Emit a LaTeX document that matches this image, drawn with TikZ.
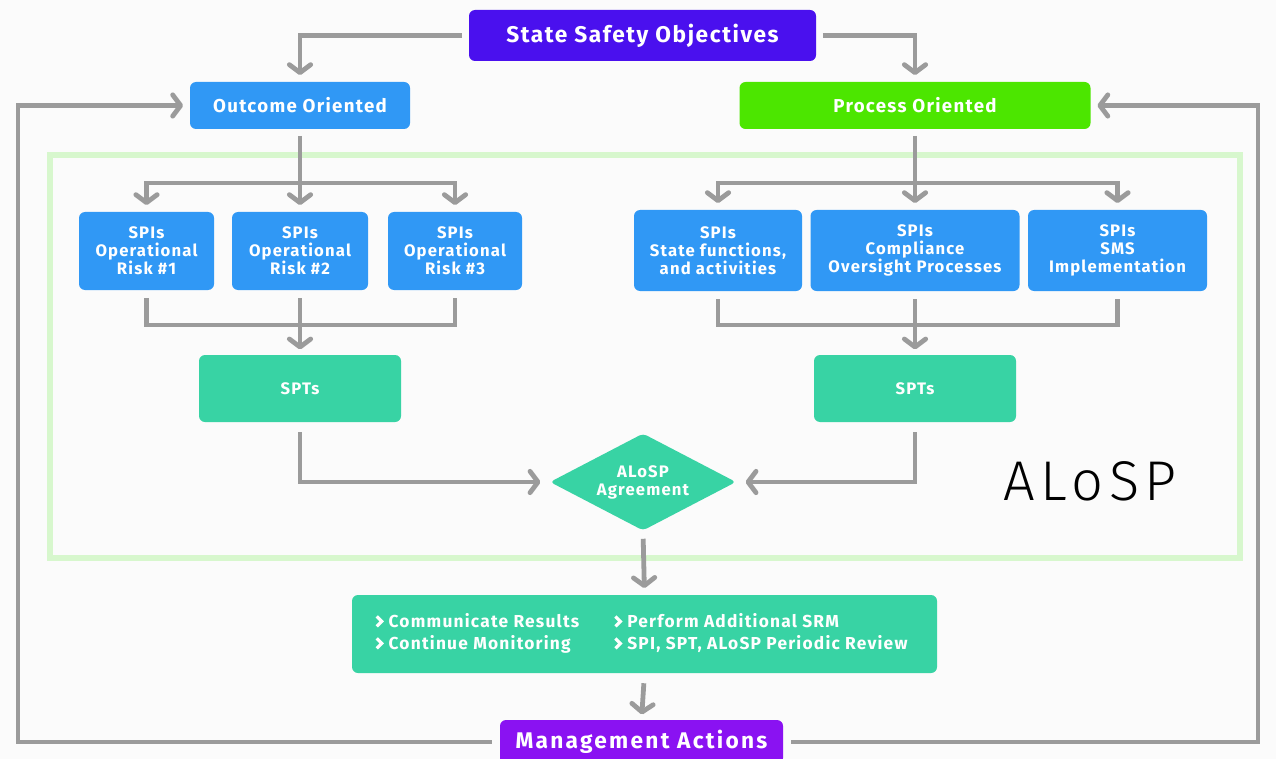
\documentclass[tikz,border=0pt]{standalone}
\usepackage{fontspec}
\setmainfont{Fira Sans}[LetterSpace=7]
\newfontfamily\thinfont{Fira Sans Light}[LetterSpace=10]
\newfontfamily\wideb{Fira Sans}[LetterSpace=10]
\usetikzlibrary{arrows.meta,shapes.geometric}
\newcommand\chev{\tikz[baseline=0pt, x=1pt, y=1pt]\draw[white, sharp corners, line width=2.4pt, line join=miter, line cap=butt] (0.5,0.8) -- (4.2,4.5) -- (0.5,8.2);\hspace{4pt}}
\definecolor{bgc}{RGB}{251,251,251}
\definecolor{ssoc}{RGB}{74,16,238}
\definecolor{bluec}{RGB}{48,152,245}
\definecolor{greenc}{RGB}{76,230,0}
\definecolor{tealc}{RGB}{56,211,164}
\definecolor{violc}{RGB}{138,18,242}
\definecolor{grayc}{RGB}{155,155,155}
\definecolor{framec}{RGB}{215,247,205}
\begin{document}
\begin{tikzpicture}[x=0.75pt,y=-0.75pt,
  sz/.style 2 args={minimum width=#1*0.75pt, minimum height=#2*0.75pt},
  box/.style={rounded corners=4.5pt, text=white, align=center, inner sep=0pt},
  ttl/.style={font=\fontsize{17}{20}\selectfont\bfseries},
  hd/.style={font=\fontsize{14}{16}\selectfont\bfseries},
  spi/.style={font=\fontsize{12.5}{13.5}\selectfont\bfseries},
  conn/.style={draw=grayc, line width=3.6pt},
  arr/.style={conn, -{Straight Barb[length=6pt,width=16pt,round]}}
]
\useasboundingbox[fill=bgc] (0,0) rectangle (1276,759);
% frame
\draw[framec, line width=4.5pt] (50,155) rectangle (1240,558);
% nodes
\node[box, fill=ssoc, sz={347}{51}, ttl] (sso) at (642.5,35.5) {State Safety Objectives};
\node[box, fill=bluec, sz={220}{47}, hd] (oo) at (300,105.5) {Outcome Oriented};
\node[box, fill=greenc, sz={351}{47}, hd] (po) at (915,105.5) {Process Oriented};
\node[box, fill=bluec, sz={135}{78}, spi] (l1) at (146.5,251) {SPIs\\Operational\\Risk \#1};
\node[box, fill=bluec, sz={136}{78}, spi] (l2) at (300,251) {SPIs\\Operational\\Risk \#2};
\node[box, fill=bluec, sz={134}{78}, spi] (l3) at (455,251) {SPIs\\Operational\\Risk \#3};
\node[box, fill=bluec, sz={168}{81}, spi] (r1) at (718,250.5) {SPIs\\State functions,\\and activities};
\node[box, fill=bluec, sz={209}{81}, spi] (r2) at (915,250.5) {SPIs\\Compliance\\Oversight Processes};
\node[box, fill=bluec, sz={179}{81}, spi] (r3) at (1117.5,250.5) {SPIs\\SMS\\Implementation};
\node[box, fill=tealc, sz={202}{67}, spi] (sptl) at (300,388.5) {SPTs};
\node[box, fill=tealc, sz={202}{67}, spi] (sptr) at (915,388.5) {SPTs};
\node[diamond, aspect=1.9, fill=tealc, text=white, rounded corners=3pt, sz={186}{97}, inner sep=0pt, align=center, spi] (dia) at (643,482) {ALoSP\\Agreement};
\node[box, fill=tealc, sz={585}{78}, font=\fontsize{13}{16.5}\selectfont\bfseries] (res) at (644.5,634)
  {\makebox[404pt][l]{\begin{tabular}{@{}p{179pt}@{}l@{}}
   \chev Communicate Results & \chev Perform Additional SRM\\
   \chev Continue Monitoring & \chev SPI, SPT, ALoSP Periodic Review
   \end{tabular}}};
\node[box, fill=violc, sz={283}{44}, font=\wideb\fontsize{17}{20}\selectfont\bfseries] (ma) at (641.5,742) {Management Actions};
\node[anchor=base, font=\thinfont\fontsize{42}{44}\selectfont, text=black, inner sep=0pt] (alosp) at (1090,500) {ALoSP};
% coordinates
\coordinate (ls) at (300,183);
\coordinate (rs) at (915,183);
\coordinate (lm) at (300,325);
\coordinate (rm) at (915,325);
\coordinate (fl) at (18,742);
\coordinate (fr) at (1258,742);
% connectors
\draw[arr, shorten <=5pt, shorten >=5pt] (sso.west) -| (oo.north);
\draw[arr, shorten <=5pt, shorten >=5pt] (sso.east) -| (po.north);
\draw[conn, shorten <=5pt] (oo.south) -- (ls);
\draw[arr, shorten >=5pt] (ls) -| (l1.north);
\draw[arr, shorten >=5pt] (ls) -- (l2.north);
\draw[arr, shorten >=5pt] (ls) -| (l3.north);
\draw[conn, shorten <=5pt] (po.south) -- (rs);
\draw[arr, shorten >=5pt] (rs) -| (r1.north);
\draw[arr, shorten >=5pt] (rs) -- (r2.north);
\draw[arr, shorten >=5pt] (rs) -| (r3.north);
\draw[conn, shorten <=6pt, shorten >=6pt] (l1.south) |- (lm) -| (l3.south);
\draw[arr, shorten <=6pt, shorten >=4pt] (l2.south) -- (sptl.north);
\draw[conn, shorten <=6pt, shorten >=6pt] (r1.south) |- (rm) -| (r3.south);
\draw[arr, shorten <=6pt, shorten >=4pt] (r2.south) -- (sptr.north);
\draw[arr, shorten <=7.5pt, shorten >=7pt] (sptl.south) |- (dia.west);
\draw[arr, shorten <=7.5pt, shorten >=7pt] (sptr.south) |- (dia.east);
\draw[arr, shorten <=6pt, shorten >=5pt] (dia.south) -- (res.north);
\draw[arr, shorten <=7.5pt, shorten >=4pt] (res.south) -- (ma.north);
\draw[arr, shorten <=6pt, shorten >=5pt] (ma.west) -- (fl) |- (oo.west);
\draw[arr, shorten <=6pt, shorten >=5pt] (ma.east) -- (fr) |- (po.east);
\end{tikzpicture}
\end{document}
